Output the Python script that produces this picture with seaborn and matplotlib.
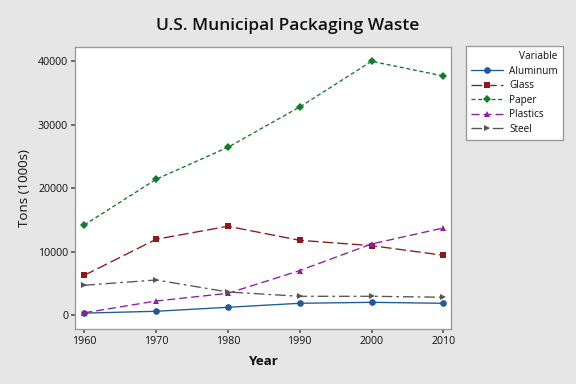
import matplotlib
matplotlib.use("Agg")
import matplotlib.pyplot as plt
import seaborn as sns
import pandas as pd

years = [1960, 1970, 1980, 1990, 2000, 2010]
aluminum = [340, 630, 1260, 1890, 2040, 1890]
glass = [6300, 11970, 14020, 11810, 10970, 9450]
paper = [14220, 21420, 26460, 32800, 40000, 37690]
plastics = [390, 2250, 3460, 7040, 11230, 13750]
steel = [4730, 5560, 3670, 2990, 2990, 2840]

names = ["Aluminum", "Glass", "Paper", "Plastics", "Steel"]
series = [aluminum, glass, paper, plastics, steel]

rows = []
for name, vals in zip(names, series):
    for yr, v in zip(years, vals):
        rows.append({"Year": yr, "Tons": v, "Variable": name})
df = pd.DataFrame(rows)

sns.set_theme(style="white")
plt.rcParams["font.family"] = ["Open Sans", "DejaVu Sans"]
plt.rcParams["text.color"] = "#111111"
plt.rcParams["axes.labelcolor"] = "#111111"
plt.rcParams["xtick.color"] = "#111111"
plt.rcParams["ytick.color"] = "#111111"

colors = {"Aluminum": "#1f5a99", "Glass": "#8c1a1a", "Paper": "#127a2a",
          "Plastics": "#8e1f9e", "Steel": "#555555"}
markers = {"Aluminum": "o", "Glass": "s", "Paper": "D", "Plastics": "^", "Steel": ">"}
dashes = {"Aluminum": "", "Glass": (8, 3), "Paper": (3, 2),
          "Plastics": (6, 3), "Steel": (8, 3, 2, 3)}

fig = plt.figure(figsize=(6, 4), dpi=96, facecolor="#e6e6e6")
ax = fig.add_axes([74.7 / 576, 1 - 329 / 384, (451 - 74.7) / 576, (329 - 46.7) / 384])
ax.set_facecolor("white")

sns.lineplot(data=df, x="Year", y="Tons", hue="Variable", style="Variable",
             palette=colors, markers=markers, dashes=dashes, markersize=5,
             markeredgewidth=0, linewidth=1, ax=ax, legend=True)

# diamonds come out bigger than the other markers
for ln in ax.lines:
    if ln.get_marker() == "D":
        ln.set_markersize(4.5)

ax.set_xlim(1958.66, 2011.07)
ax.set_ylim(-2160, 42300)
ax.set_xticks(years)
ax.set_yticks([0, 10000, 20000, 30000, 40000])
ax.tick_params(axis="both", labelsize=8, length=3, color="#555555", left=True, bottom=True, pad=2)
for s in ax.spines.values():
    s.set_color("#999999")
    s.set_linewidth(1)

ax.set_xlabel("Year", fontsize=10, fontweight="bold", labelpad=6)
ax.set_ylabel("Tons (1000s)", fontsize=10, labelpad=5)
fig.text(0.5, 1 - 26 / 384, "U.S. Municipal Packaging Waste", ha="center", va="center",
         fontsize=13, fontweight="semibold")

handles, labels = ax.get_legend_handles_labels()
for h in handles:
    if h.get_marker() == "D":
        h.set_markersize(4.5)
leg = ax.legend(handles, labels, title="Variable", loc="upper left",
                bbox_to_anchor=(466 / 576, 1 - 46 / 384), bbox_transform=fig.transFigure,
                borderaxespad=0, fontsize=7.5, title_fontsize=7.5, frameon=True,
                fancybox=False, edgecolor="#999999", framealpha=1, borderpad=0.5,
                labelspacing=0.35, handlelength=3.2, handletextpad=0.6)
leg._legend_box.align = "right"

fig.savefig("out.png", dpi=96, facecolor=fig.get_facecolor())
